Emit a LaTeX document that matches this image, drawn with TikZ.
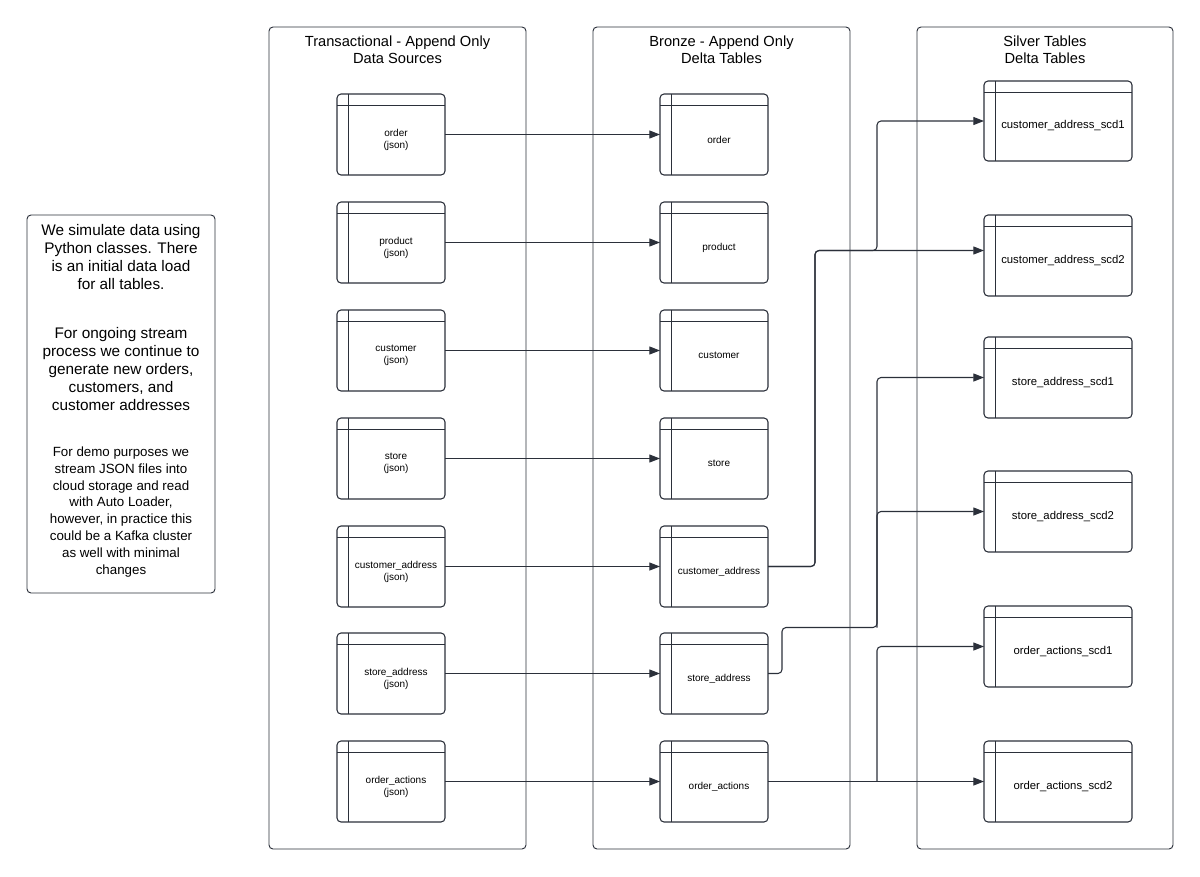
\documentclass[tikz,border=0pt]{standalone}
\usepackage{fontspec}
\setmainfont{Liberation Sans}
\usetikzlibrary{arrows.meta,calc}
\definecolor{ln}{HTML}{2B303A}
\begin{document}
\begin{tikzpicture}[x=0.75pt,y=-0.75pt,
  lane/.style={draw=ln,line width=0.7pt,rounded corners=3pt},
  tbl/.style={draw=ln,line width=0.8pt,rounded corners=3pt},
  conn/.style={draw=ln,line width=0.8pt,rounded corners=3pt,-{Triangle[length=8pt,width=6pt]}},
  lbl/.style={font=\fontsize{7.5}{9}\selectfont,align=center,text=black},
  ttl/.style={font=\fontsize{11}{13}\selectfont,align=center,text=black},
  nt/.style={font=\fontsize{11.5}{13.5}\selectfont,align=center,text=black}]
\useasboundingbox (0,0) rectangle (1200,876);
% lanes
\draw[lane] (269,27) rectangle (526,849);
\draw[lane] (593,27) rectangle (850,849);
\draw[lane] (917,27) rectangle (1173,849);
\node[ttl] (t1) at (397.5,50) {Transactional - Append Only\\Data Sources};
\node[ttl] (t2) at (721.5,50) {Bronze - Append Only\\Delta Tables};
\node[ttl] (t3) at (1045,50) {Silver Tables\\Delta Tables};
% note
\draw[lane] (27,215) rectangle (215,593);
\node[nt] (note) at (121,257) {We simulate data using\\Python classes. There\\is an initial data load\\for all tables.};
\node[nt] (note2) at (121,369) {For ongoing stream\\process we continue to\\generate new orders,\\customers, and\\customer addresses};
\node[font=\fontsize{10}{12.7}\selectfont,align=center,text=black] (note3) at (121,512) {For demo purposes we\\stream JSON files into\\cloud storage and read\\with Auto Loader,\\however, in practice this\\could be a Kafka cluster\\as well with minimal\\changes};
% table macro
\newcommand{\mytbl}[7]{% name, x1, y1, x2, y2, label, font
  \draw[tbl] (#2,#3) rectangle (#4,#5);
  \draw[ln,line width=0.6pt] (#2,#3+11) -- (#4,#3+11);
  \draw[ln,line width=0.6pt] (#2+11,#3) -- (#2+11,#5);
  \node[inner sep=0pt] (#1) at ({(#2+#4)/2},{(#3+#5)/2}) {};
  \node[lbl,#7] (#1l) at ({(#2+#4)/2+5},{(#3+#5)/2+5}) {#6};
  \coordinate (#1W) at (#2,{(#3+#5)/2});
  \coordinate (#1E) at (#4,{(#3+#5)/2});
}
\foreach \n/\y/\a/\b in {o/94/order/order,p/202/product/product,c/310/customer/customer,s/418/store/store,ca/526/customer\_address/customer\_address,sa/633/store\_address/store\_address,oa/741/order\_actions/order\_actions}{
  \mytbl{s\n}{337}{\y}{445}{\y+81}{\a\\(json)}{}
  \mytbl{b\n}{660}{\y}{768}{\y+81}{\b}{}
}
\tikzset{sl/.style={font=\fontsize{8.5}{10}\selectfont}}
\mytbl{x1}{984}{81}{1132}{161}{customer\_address\_scd1}{sl}
\mytbl{x2}{984}{215}{1132}{296}{customer\_address\_scd2}{sl}
\mytbl{x3}{984}{337}{1132}{418}{store\_address\_scd1}{sl}
\mytbl{x4}{984}{471}{1132}{552}{store\_address\_scd2}{sl}
\mytbl{x5}{984}{606}{1132}{687}{order\_actions\_scd1}{sl}
\mytbl{x6}{984}{741}{1132}{822}{order\_actions\_scd2}{sl}
% straight connectors
\foreach \n in {o,p,c,s,ca,sa,oa}{
  \draw[conn] (s\n E) -- (b\n W);
}
% customer_address
\draw[conn] (bcaE) -- ++(47,0) |- ($(x2W)+(0,-5)$);
\draw[conn] (bcaE) -- ++(47,0) |- ($(x2W)+(-107,-5)$) |- ($(x1W)$);
% store_address
\draw[conn] (bsaE) -- ++(14,0) |- ($(x3W)+(-107,250)$) |- (x3W);
\draw[conn] ($(x3W)+(-107,250)$) |- (x4W);
% order_actions
\draw[conn] (boaE) -- (x6W);
\draw[conn] ($(x6W)+(-107,0)$) |- (x5W);
\end{tikzpicture}
\end{document}
